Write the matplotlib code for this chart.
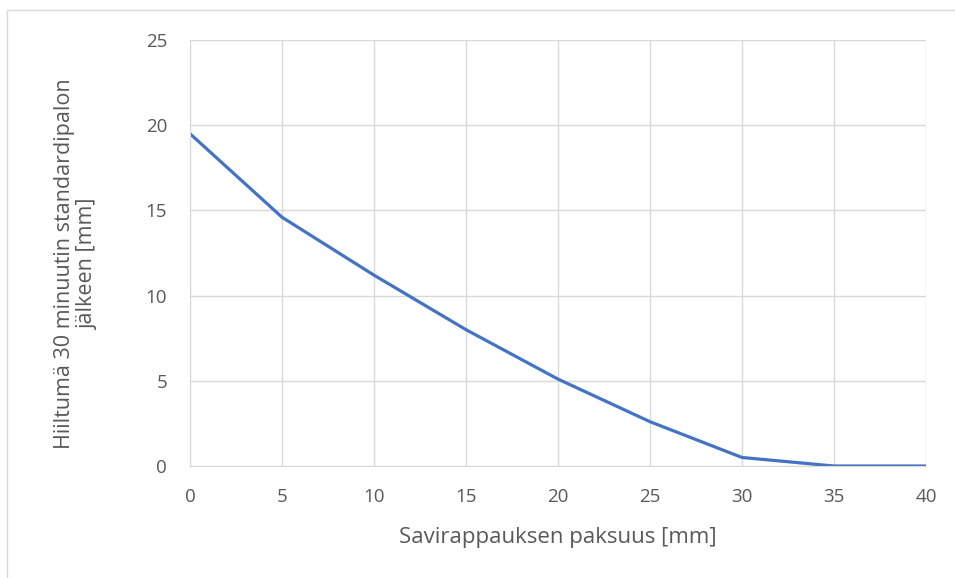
import matplotlib.pyplot as plt
from matplotlib.patches import Rectangle

# Data
thickness = [0, 5, 10, 15, 20, 25, 30, 35, 40]
char_depth = [19.5, 14.6, 11.2, 8.0, 5.1, 2.6, 0.5, 0.0, 0.0]

x_ticks = [0, 5, 10, 15, 20, 25, 30, 35, 40]
y_ticks = [0, 5, 10, 15, 20, 25]

ylabel_lines = ['Hiiltumä 30 minuutin standardipalon', 'jälkeen [mm]']
xlabel = 'Savirappauksen paksuus [mm]'

text_color = '#595959'
grid_color = '#D9D9D9'
line_color = '#4472C4'

plt.rcParams['font.family'] = ['Open Sans', 'DejaVu Sans']

fig = plt.figure(figsize=(9.55, 5.78), dpi=100)
# chart area frame (only left and top edges show in the picture)
fig.patches.append(Rectangle((7 / 955, -0.01), 1.0, (568 / 578) + 0.01,
                             transform=fig.transFigure, fill=False,
                             edgecolor=grid_color, linewidth=1))

ax = fig.add_axes([190 / 955, 112 / 578, 736 / 955, 426 / 578])
ax.plot(thickness, char_depth, color=line_color, linewidth=2.3,
        solid_capstyle='round', solid_joinstyle='round')

ax.set_xlim(0, 40)
ax.set_ylim(0, 25)
ax.set_xticks(x_ticks)
ax.set_yticks(y_ticks)
ax.grid(True, color=grid_color, linewidth=1)
ax.set_axisbelow(True)
for side in ['top', 'right']:
    ax.spines[side].set_visible(False)
ax.spines['left'].set_color(grid_color)
ax.spines['bottom'].set_color(grid_color)
ax.tick_params(length=0, colors=text_color, labelsize=13.5)
ax.tick_params(axis='x', pad=15.5)
ax.tick_params(axis='y', pad=16.5)

ax.set_xlabel(xlabel, color=text_color, fontsize=16)
ax.xaxis.set_label_coords(0.5, -0.143)

# y label: two lines, centred on each other
fig.text(76 / 955, 1 - 264 / 578, '\n'.join(ylabel_lines), rotation=90,
         color=text_color, fontsize=15.5, ha='center', va='center',
         multialignment='center', linespacing=1.15)

fig.savefig('out.png', dpi=100)
